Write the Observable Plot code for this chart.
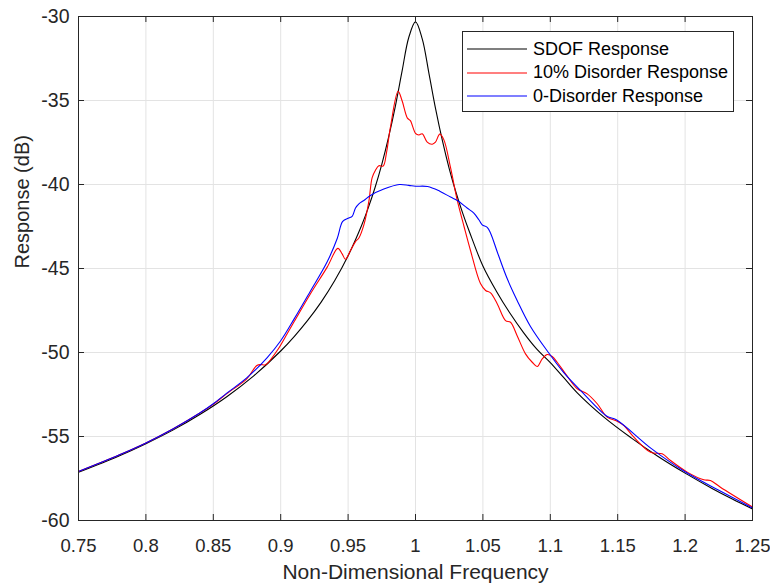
<!DOCTYPE html>
<html><head><meta charset="utf-8">
<script src="https://cdn.jsdelivr.net/npm/d3@7"></script>
<script src="https://cdn.jsdelivr.net/npm/@observablehq/plot@0.6"></script>
<style>
body{margin:0;background:#fff;}
#wrap{position:relative;width:770px;height:584px;font-family:"Liberation Sans",Arial,Helvetica,sans-serif;}
#wrap > svg{position:absolute;left:0;top:0;}
#legend{position:absolute;left:462px;top:31px;width:270px;height:79px;border:1px solid #262626;background:#fff;}
#legend .row{position:absolute;left:0;height:22px;display:flex;align-items:center;font-size:18px;color:#000;white-space:nowrap;}
#legend .row svg{position:static;display:block;margin-left:4px;margin-right:6px;}
</style></head><body><div id="wrap"></div>
<script>
// ---- data ----
const xTicks = [0.75,0.8,0.85,0.9,0.95,1,1.05,1.1,1.15,1.2,1.25];
const xTickLabels = ["0.75","0.8","0.85","0.9","0.95","1","1.05","1.1","1.15","1.2","1.25"];
const yTicks = [-60,-55,-50,-45,-40,-35,-30];
const yTickLabels = ["-60","-55","-50","-45","-40","-35","-30"];

const seriesNames = ["SDOF Response","10% Disorder Response","0-Disorder Response"];
const seriesColors = ["#000000","#ff0000","#0000ff"];

const sdofFreq = [0.75,0.78,0.80,0.82,0.84,0.86,0.88,0.90,0.91,0.92,0.93,0.94,0.95,0.96,0.965,0.97,0.975,0.98,0.985,0.99,0.995,1.0,1.005,1.01,1.015,1.02,1.025,1.03,1.035,1.04,1.05,1.06,1.07,1.08,1.09,1.10,1.11,1.12,1.14,1.16,1.18,1.20,1.22,1.235,1.25];
const sdofDb = [-57.13,-56.16,-55.43,-54.62,-53.69,-52.63,-51.39,-49.91,-49.05,-48.09,-47.0,-45.73,-44.24,-42.44,-41.38,-40.18,-38.8,-37.2,-35.36,-33.27,-31.25,-30.32,-31.33,-33.4,-35.53,-37.41,-39.05,-40.46,-41.7,-42.81,-44.85,-46.35,-47.65,-48.8,-49.8,-50.6,-51.5,-52.4,-53.86,-55.08,-56.19,-57.18,-58.09,-58.72,-59.31];

const disorderFreq = [0.75,0.78,0.80,0.82,0.84,0.85,0.86,0.875,0.8823,0.8855,0.8887,0.8974,0.905,0.9097,0.9221,0.9345,0.9424,0.9456,0.948,0.9518,0.9555,0.958,0.9617,0.9654,0.9678,0.9703,0.9728,0.976,0.9785,0.9814,0.9871,0.99,0.994,0.9962,1.0,1.0025,1.005,1.0087,1.0124,1.0148,1.018,1.021,1.026,1.031,1.036,1.0408,1.0482,1.052,1.0557,1.0606,1.0668,1.0705,1.0754,1.0816,1.0866,1.0903,1.094,1.0977,1.1014,1.1051,1.1113,1.12,1.1274,1.1348,1.1422,1.1496,1.1546,1.162,1.1744,1.183,1.1892,1.2016,1.2139,1.2188,1.2262,1.25];
const disorderDb = [-57.08,-56.1,-55.38,-54.55,-53.6,-53.08,-52.45,-51.55,-50.77,-50.72,-50.73,-49.88,-48.85,-48.2,-46.5,-44.92,-43.8,-44.13,-44.45,-43.93,-43.4,-43.18,-42.4,-41.0,-39.6,-39.15,-38.88,-38.9,-38.1,-36.59,-34.45,-35.0,-36.05,-36.2,-36.95,-37.05,-36.98,-37.48,-37.6,-37.48,-37.0,-37.33,-39.0,-40.95,-42.5,-43.93,-45.9,-46.31,-46.45,-47.1,-48.1,-48.2,-49.0,-50.08,-50.58,-50.83,-50.38,-50.12,-50.24,-50.58,-51.27,-52.16,-52.46,-53.05,-53.85,-54.09,-54.35,-55.04,-55.94,-56.03,-56.43,-57.12,-57.58,-57.62,-58.02,-59.2];

const orderedFreq = [0.75,0.78,0.80,0.82,0.84,0.85,0.86,0.875,0.89,0.90,0.91,0.922,0.9345,0.942,0.946,0.9505,0.953,0.9555,0.958,0.9617,0.9666,0.9765,0.988,0.995,1.0,1.009,1.018,1.026,1.031,1.0383,1.0433,1.047,1.0495,1.0532,1.0557,1.0606,1.068,1.0754,1.0853,1.0986,1.11,1.1224,1.142,1.149,1.175,1.2,1.225,1.25];
const orderedDb = [-57.08,-56.1,-55.38,-54.55,-53.6,-53.05,-52.42,-51.5,-50.3,-49.3,-48.0,-46.35,-44.6,-43.2,-42.2,-42.0,-41.9,-41.4,-41.15,-40.95,-40.65,-40.27,-40.0,-40.05,-40.1,-40.12,-40.4,-40.75,-40.95,-41.4,-41.7,-42.1,-42.4,-42.55,-42.9,-44.0,-45.6,-46.9,-48.45,-50.0,-51.2,-52.26,-53.8,-54.0,-55.72,-57.1,-58.2,-59.25];

// ---- build tables ----
const toRows = (fs, ds) => fs.map((f, i) => ({f, db: ds[i]}));
const sdof = toRows(sdofFreq, sdofDb);
const disorder = toRows(disorderFreq, disorderDb);
const ordered = toRows(orderedFreq, orderedDb);

const W = 770, H = 584, mL = 78, mR = 18, mT = 16, mB = 64;
const innerW = W - mL - mR, innerH = H - mT - mB, tickLen = 6;
const axisColor = "#262626";

const chart = Plot.plot({
  width: W, height: H,
  marginLeft: mL, marginRight: mR, marginTop: mT, marginBottom: mB,
  style: {fontFamily: '"Liberation Sans", Arial, Helvetica, sans-serif', background: "transparent"},
  x: {domain: [0.75, 1.25], axis: null},
  y: {domain: [-60, -30], axis: null},
  marks: [
    Plot.ruleX(xTicks, {x: d => d, stroke: "#e3e3e3", strokeWidth: 1}),
    Plot.ruleY(yTicks, {y: d => d, stroke: "#e3e3e3", strokeWidth: 1}),
    Plot.line(sdof, {x: "f", y: "db", stroke: seriesColors[0], strokeWidth: 1.1, curve: "catmull-rom"}),
    Plot.line(disorder, {x: "f", y: "db", stroke: seriesColors[1], strokeWidth: 1.1, curve: "catmull-rom"}),
    Plot.line(ordered, {x: "f", y: "db", stroke: seriesColors[2], strokeWidth: 1.1, curve: "catmull-rom"}),
    Plot.frame({stroke: axisColor, strokeWidth: 1}),
    Plot.tickX(xTicks, {x: d => d, insetTop: innerH - tickLen, stroke: axisColor}),
    Plot.tickX(xTicks, {x: d => d, insetBottom: innerH - tickLen, stroke: axisColor}),
    Plot.tickY(yTicks, {y: d => d, insetRight: innerW - tickLen, stroke: axisColor}),
    Plot.tickY(yTicks, {y: d => d, insetLeft: innerW - tickLen, stroke: axisColor}),
    Plot.text(xTicks, {x: d => d, frameAnchor: "bottom", dy: 31, text: (d, i) => xTickLabels[i], fontSize: 18.5, fill: axisColor}),
    Plot.text(yTicks, {y: d => d, frameAnchor: "left", dx: -9, textAnchor: "end", text: (d, i) => yTickLabels[i], fontSize: 19.5, fill: axisColor}),
    Plot.text(["Non-Dimensional Frequency"], {frameAnchor: "bottom", dy: 58, text: d => d, fontSize: 21, fill: axisColor}),
    Plot.text(["Response (dB)"], {frameAnchor: "left", dx: -56, rotate: -90, text: d => d, fontSize: 20, fill: axisColor})
  ]
});

const wrap = document.getElementById("wrap");
wrap.appendChild(chart);

// legend
const legend = document.createElement("div");
legend.id = "legend";
const rowCenters = [17, 40.7, 64];
seriesNames.forEach((name, i) => {
  const row = document.createElement("div");
  row.className = "row";
  row.style.top = (rowCenters[i] - 11) + "px";
  row.innerHTML = `<svg width="60" height="4"><line x1="0" x2="60" y1="2" y2="2" stroke="${seriesColors[i]}" stroke-width="1.1"/></svg><span>${name}</span>`;
  legend.appendChild(row);
});
wrap.appendChild(legend);
</script>
</body></html>
